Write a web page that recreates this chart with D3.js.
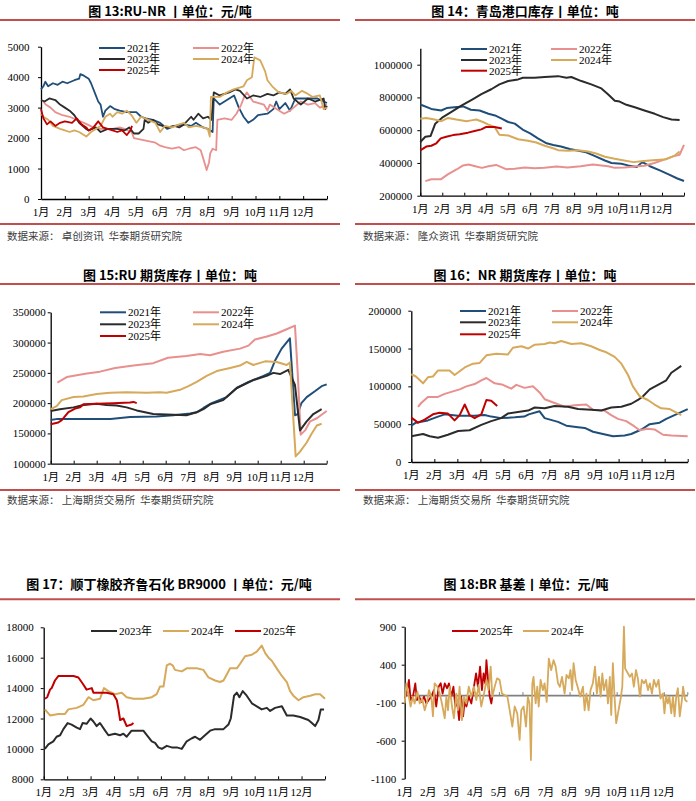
<!DOCTYPE html>
<html><head><meta charset="utf-8">
<script src="https://cdn.jsdelivr.net/npm/d3@7"></script>
<style>body{margin:0;background:#fff}svg{display:block}</style>
</head><body><svg id="c" width="696" height="801"></svg>
<script>
const MONTHS = ["1月","2月","3月","4月","5月","6月","7月","8月","9月","10月","11月","12月"];
const SERIES_NAMES = ["2021年","2022年","2023年","2024年","2025年"];
const COLORS = {"2021年":"#1f4e79","2022年":"#e8908e","2023年":"#2b2b2b","2024年":"#d6a95b","2025年":"#c00000"};

// ---------- 图13 RU-NR (x = month position, 0 = 1月初) ----------
const ru_2021 = [[0,3600],[0.1,3700],[0.18,3850],[0.3,3700],[0.5,3800],[0.7,3750],[0.9,3850],[1.1,3800],[1.4,3900],[1.6,3950],[1.65,4100],[1.8,4050],[2.0,3950],[2.1,3800],[2.3,3400],[2.4,3200],[2.5,3100],[2.6,2700],[2.7,2900],[2.9,3050],[3.1,2950],[3.3,2900],[3.6,2850],[4.0,2850],[4.2,2700],[4.4,2650],[4.7,2600],[5.0,2500],[5.3,2300],[5.6,2400],[6.0,2450],[6.3,2400],[6.5,2500],[6.8,2350],[7.0,2300],[7.1,2250],[7.2,2200],[7.25,3300],[7.5,3100],[7.9,3300],[8.1,3400],[8.3,3000],[8.5,2700],[8.7,2500],[8.9,2600],[9.1,2750],[9.5,2800],[9.75,2950],[9.87,3200],[10.0,2950],[10.25,3150],[10.45,2900],[10.67,3300],[11.2,3300],[11.6,3300],[12.0,3150]];
const ru_2022 = [[0.1,3200],[0.2,3100],[0.4,3000],[0.6,2850],[0.9,2750],[1.2,2700],[1.5,2600],[1.8,2500],[2.2,2350],[2.5,2300],[3.0,2300],[3.3,2350],[3.5,2300],[3.8,2200],[3.9,2000],[4.2,1950],[4.5,1900],[4.8,1850],[5.0,1750],[5.2,1700],[5.5,1650],[5.8,1700],[6.0,1600],[6.2,1650],[6.5,1700],[6.7,1600],[6.8,1350],[6.95,950],[7.05,1200],[7.1,1500],[7.2,1650],[7.35,1600],[7.4,2600],[7.7,2650],[8.0,2600],[8.2,2800],[8.4,3100],[8.55,3400],[8.64,3500],[8.9,3200],[9.35,3100],[9.5,2900],[9.6,3100],[9.9,2950],[10.2,2800],[10.45,2900],[10.6,3000],[10.9,3200],[11.2,3100],[11.5,3150],[11.7,3000],[12.0,3100]];
const ru_2023 = [[0,3250],[0.15,3200],[0.35,3300],[0.6,3250],[0.8,3100],[1.0,3000],[1.2,2900],[1.4,2750],[1.6,2500],[1.9,2300],[2.0,2250],[2.3,2350],[2.5,2200],[2.8,2300],[3.2,2300],[3.5,2250],[3.7,2350],[3.9,2150],[4.1,2150],[4.3,2300],[4.35,2600],[4.5,2500],[4.7,2600],[4.9,2450],[5.1,2400],[5.3,2350],[5.6,2400],[5.8,2350],[6.0,2450],[6.3,2700],[6.4,2600],[6.6,2800],[6.8,2650],[7.0,2700],[7.15,2600],[7.25,3500],[7.5,3400],[7.9,3500],[8.15,3600],[8.35,3550],[8.64,3300],[8.9,3400],[9.2,3350],[9.5,3450],[9.75,3400],[10.0,3500],[10.25,3450],[10.45,3600],[10.6,3300],[10.9,3100],[11.2,3300],[11.5,3200],[11.86,3300],[11.93,2950],[12.0,3050]];
const ru_2024 = [[0,2800],[0.1,2700],[0.3,2600],[0.5,2400],[0.8,2300],[1.0,2250],[1.2,2200],[1.4,2250],[1.6,2200],[1.8,2100],[1.9,2050],[2.1,2200],[2.3,2300],[2.5,2400],[2.7,2700],[2.9,2800],[3.0,2700],[3.2,2850],[3.4,2800],[3.6,2900],[3.8,2750],[4.0,2500],[4.2,2700],[4.5,2600],[4.8,2500],[5.0,2200],[5.2,2400],[5.5,2350],[5.8,2450],[6.0,2500],[6.2,2350],[6.5,2400],[6.8,2350],[7.0,2300],[7.08,2050],[7.13,3350],[7.5,3350],[7.8,3500],[8.08,3600],[8.5,3700],[8.64,3900],[8.85,4000],[8.95,4650],[9.2,4550],[9.4,4200],[9.5,3900],[9.7,3700],[9.97,3500],[10.3,3450],[10.5,3550],[10.67,3400],[10.95,3550],[11.2,3450],[11.4,3350],[11.7,3400],[11.86,2950],[12.0,3000]];
const ru_2025 = [[0,2950],[0.1,2650],[0.25,2450],[0.4,2550],[0.6,2400],[0.8,2500],[1.0,2550],[1.3,2500],[1.5,2650],[1.7,2450],[1.9,2350],[2.0,2250],[2.2,2350],[2.4,2550],[2.6,2350],[2.8,2300],[3.0,2250],[3.2,2200],[3.4,2250],[3.6,2100],[3.75,2250],[3.82,2400]];
const ru_ticks = [0,1000,2000,3000,4000,5000];

// ---------- 图14 青岛港口库存 ----------
const qd_2021 = [[0,757000],[0.5,730000],[0.95,720000],[1.2,735000],[1.55,740000],[1.95,745000],[2.3,725000],[2.7,720000],[3.1,700000],[3.4,690000],[3.7,670000],[4.0,650000],[4.3,640000],[4.7,600000],[5.0,580000],[5.35,550000],[5.75,520000],[6.05,510000],[6.4,500000],[6.8,485000],[7.2,475000],[7.55,465000],[7.9,445000],[8.4,415000],[8.7,400000],[9.15,395000],[9.45,385000],[9.85,375000],[10.1,405000],[10.45,380000],[10.9,355000],[11.3,330000],[11.7,305000],[12.0,290000]];
const qd_2022 = [[0.23,289000],[0.5,300000],[0.93,300000],[1.25,330000],[1.65,360000],[1.95,385000],[2.2,390000],[2.5,380000],[2.8,370000],[3.1,380000],[3.45,388000],[3.9,362000],[4.3,365000],[4.75,372000],[5.2,368000],[5.65,370000],[6.2,378000],[6.7,372000],[7.3,380000],[7.85,390000],[8.55,380000],[8.85,370000],[9.3,372000],[9.75,378000],[10.2,383000],[10.65,400000],[11.1,420000],[11.5,440000],[11.8,450000],[12.0,510000]];
const qd_2023 = [[0,528000],[0.23,560000],[0.47,565000],[0.68,640000],[1.03,680000],[1.4,710000],[1.87,750000],[2.4,790000],[2.78,820000],[3.23,850000],[3.6,880000],[4.0,900000],[4.45,910000],[4.67,920000],[5.2,920000],[5.66,925000],[6.27,930000],[6.65,920000],[6.87,925000],[7.33,900000],[7.78,880000],[8.24,855000],[8.54,820000],[8.85,780000],[9.07,775000],[9.38,755000],[9.76,740000],[10.2,720000],[10.67,700000],[11.05,680000],[11.43,665000],[11.8,662000]];
const qd_2024 = [[0,670000],[0.27,675000],[0.65,665000],[0.96,655000],[1.26,675000],[1.64,665000],[2.1,655000],[2.32,660000],[2.55,665000],[2.85,650000],[3.08,635000],[3.38,620000],[3.6,572000],[4.0,568000],[4.45,545000],[4.9,535000],[5.28,525000],[5.66,505000],[6.04,490000],[6.27,478000],[6.72,475000],[7.18,478000],[7.63,470000],[8.0,458000],[8.4,438000],[8.85,425000],[9.15,418000],[9.7,405000],[10.06,410000],[10.44,415000],[10.9,420000],[11.2,423000],[11.58,445000],[11.8,470000]];
const qd_2025 = [[0,477000],[0.27,500000],[0.5,505000],[0.73,520000],[0.93,550000],[1.18,560000],[1.49,570000],[1.79,575000],[2.17,585000],[2.47,595000],[2.78,605000],[3.0,620000],[3.38,620000],[3.71,610000]];
const qd_ticks = [200000,400000,600000,800000,1000000];

// ---------- 图15 RU期货库存 ----------
const rk_2021 = [[0,172000],[0.3,174000],[2.6,174000],[3.45,177000],[4.6,178000],[5.33,180000],[6.06,183000],[6.35,185000],[6.64,192000],[7.0,200000],[7.65,210000],[8.09,225000],[8.6,235000],[9.25,245000],[9.54,250000],[9.75,270000],[10.04,290000],[10.4,307000],[10.62,180000],[10.74,182000],[10.9,200000],[11.13,210000],[11.5,220000],[11.78,228000],[12.0,231000]];
const rk_2022 = [[0.29,234000],[0.7,243000],[1.13,246000],[1.57,249000],[2.14,252000],[2.8,258000],[3.6,262000],[4.46,266000],[5.1,275000],[5.9,278000],[6.5,281000],[6.93,279000],[7.5,285000],[8.23,290000],[8.6,295000],[8.88,305000],[9.4,310000],[9.83,315000],[10.26,322000],[10.62,328000],[10.74,250000],[10.87,148000],[11.06,155000],[11.28,170000],[11.57,175000],[12.0,187000]];
const rk_2023 = [[0,187000],[0.4,190000],[0.99,193000],[1.42,197000],[2.0,199000],[2.43,197000],[2.87,196000],[3.3,193000],[3.74,188000],[4.46,182000],[5.33,181000],[5.9,180000],[6.35,185000],[6.64,190000],[6.93,198000],[7.5,205000],[8.09,225000],[8.81,238000],[9.39,245000],[9.68,250000],[9.97,248000],[10.33,255000],[10.62,230000],[10.84,155000],[11.13,170000],[11.42,182000],[11.78,190000]];
const rk_2024 = [[0,190000],[0.26,195000],[0.48,205000],[0.99,210000],[1.42,211000],[2.0,215000],[2.58,217000],[3.3,218000],[4.17,217000],[4.75,218000],[5.04,217000],[5.62,222000],[5.99,228000],[6.35,235000],[6.78,245000],[7.22,253000],[7.8,258000],[8.23,262000],[8.52,268000],[8.81,263000],[9.32,269000],[9.83,268000],[10.26,263000],[10.4,267000],[10.65,112000],[10.84,120000],[11.13,135000],[11.35,150000],[11.57,163000],[11.78,166000]];
const rk_2025 = [[0,165000],[0.33,168000],[0.48,172000],[0.77,185000],[1.06,191000],[1.28,193000],[1.42,198000],[2.0,199000],[2.72,200000],[3.45,201000],[3.6,202000],[3.74,200000]];
const rk_ticks = [100000,150000,200000,250000,300000,350000];

// ---------- 图16 NR期货库存 ----------
const nk_2021 = [[0,48000],[0.2,52000],[0.72,55000],[1.16,60000],[1.45,63000],[2.03,61000],[2.75,61000],[3.18,62000],[3.47,60000],[3.9,58000],[4.49,59000],[4.9,60000],[5.1,63000],[5.57,67000],[5.79,58000],[6.37,53000],[6.73,48000],[7.24,46000],[7.53,45000],[7.89,40000],[8.32,37000],[8.76,34000],[9.26,35000],[9.55,37000],[9.99,43000],[10.35,50000],[10.78,52000],[11.07,57000],[11.5,63000],[12.0,70000]];
const nk_2022 = [[0.29,73000],[0.43,78000],[0.72,86000],[1.16,86000],[1.45,90000],[1.88,94000],[2.1,96000],[2.39,100000],[2.75,103000],[3.04,108000],[3.26,111000],[3.62,104000],[3.98,102000],[4.34,97000],[4.56,102000],[4.92,98000],[5.28,100000],[5.57,92000],[5.79,83000],[6.22,78000],[6.66,73000],[7.09,75000],[7.6,76000],[7.89,69000],[8.39,68000],[8.68,62000],[8.97,57000],[9.33,54000],[9.69,47000],[9.91,42000],[10.27,44000],[10.56,43000],[10.93,36000],[11.29,35000],[12.0,34000]];
const nk_2023 = [[0,34000],[0.51,37000],[0.8,34000],[1.16,32000],[1.59,36000],[2.03,41000],[2.53,42000],[3.04,49000],[3.47,54000],[3.9,58000],[4.19,64000],[4.63,66000],[5.07,68000],[5.36,72000],[5.79,71000],[6.22,74000],[6.8,73000],[7.24,70000],[7.81,69000],[8.25,68000],[8.68,72000],[9.12,73000],[9.55,77000],[9.84,82000],[10.06,87000],[10.35,96000],[10.71,102000],[11.07,108000],[11.29,118000],[11.72,127000]];
const nk_2024 = [[0,116000],[0.2,113000],[0.51,104000],[0.72,112000],[0.94,113000],[1.16,121000],[1.66,121000],[1.88,115000],[2.1,120000],[2.32,125000],[2.68,130000],[2.97,131000],[3.26,141000],[3.69,143000],[4.19,142000],[4.41,151000],[4.78,153000],[5.07,150000],[5.36,155000],[5.79,156000],[6.01,158000],[6.22,157000],[6.51,160000],[6.95,156000],[7.38,157000],[7.81,153000],[8.18,148000],[8.47,145000],[8.83,139000],[9.12,130000],[9.41,115000],[9.62,100000],[9.91,87000],[10.27,82000],[10.56,76000],[10.85,71000],[11.22,70000],[11.72,62000]];
const nk_2025 = [[0,58600],[0.29,52000],[0.58,56000],[0.94,63000],[1.23,65000],[1.59,64000],[1.88,55000],[2.1,62000],[2.32,76000],[2.53,62000],[2.75,58000],[3.04,63000],[3.26,82000],[3.47,81000],[3.73,74000]];
const nk_ticks = [0,50000,100000,150000,200000];

// ---------- 图17 顺丁橡胶 BR9000 ----------
const br_2023 = [[0.05,10000],[0.2,10300],[0.41,10500],[0.55,10800],[0.7,10900],[0.84,11300],[1.02,11700],[1.19,11600],[1.41,11400],[1.55,11300],[1.66,11700],[1.83,11650],[2.0,12000],[2.12,11800],[2.26,11500],[2.4,11700],[2.62,11200],[2.76,10900],[3.04,11000],[3.26,10900],[3.4,11000],[3.54,10800],[3.75,11200],[4.04,11200],[4.25,11200],[4.4,10900],[4.61,10500],[4.75,10400],[4.89,10100],[5.04,10000],[5.25,10200],[5.46,10100],[5.68,10100],[5.89,10000],[6.1,10500],[6.32,10700],[6.46,10800],[6.67,10600],[6.88,10900],[7.1,11200],[7.31,11300],[7.67,11300],[7.88,11600],[7.98,12000],[8.12,13500],[8.24,13700],[8.35,13400],[8.49,13800],[8.66,13500],[8.88,13000],[9.09,12800],[9.3,12600],[9.52,12700],[9.66,12500],[9.87,12700],[10.16,12800],[10.37,12200],[10.65,12200],[10.94,12100],[11.29,11900],[11.44,11700],[11.58,11500],[11.72,11900],[11.82,12600],[11.96,12600]];
const br_2024 = [[0.05,12600],[0.27,12200],[0.63,12300],[0.91,12300],[1.05,12600],[1.41,12700],[1.69,12900],[1.91,13400],[2.12,13200],[2.4,13300],[2.57,14000],[2.76,13800],[3.04,13600],[3.33,13700],[3.54,13400],[3.83,13300],[4.25,13300],[4.61,13400],[4.82,13600],[4.96,14100],[5.11,14100],[5.25,15500],[5.39,15600],[5.5,15500],[5.6,15200],[5.89,15100],[6.1,15300],[6.53,15300],[6.81,15200],[7.03,14700],[7.31,14500],[7.52,14400],[7.67,14500],[7.81,14900],[7.95,15300],[8.24,15300],[8.38,15600],[8.59,16100],[8.88,16200],[9.09,16400],[9.3,16800],[9.45,16300],[9.59,16000],[9.73,15800],[9.94,15300],[10.16,14800],[10.37,14400],[10.51,13800],[10.65,13500],[10.87,13200],[11.08,13400],[11.37,13500],[11.58,13600],[11.79,13600],[12.0,13300]];
const br_2025 = [[0.05,13300],[0.15,13400],[0.27,13900],[0.34,14000],[0.48,14500],[0.63,14800],[0.98,14800],[1.27,14800],[1.48,14700],[1.66,14300],[1.83,13900],[2.05,14000],[2.12,13700],[2.4,13700],[2.69,13700],[2.97,13600],[3.12,13200],[3.19,12600],[3.26,11900],[3.4,12000],[3.54,11500],[3.75,11600],[3.83,11700]];
const br_ticks = [8000,10000,12000,14000,16000,18000];

// ---------- 图18 BR 基差 ----------
const bs_2024_x = [0,0.07,0.14,0.25,0.35,0.42,0.54,0.64,0.74,0.85,0.95,1.03,1.13,1.2,1.27,1.39,1.49,1.58,1.7,1.77,1.84,1.91,2.01,2.09,2.19,2.26,2.33,2.43,2.52,2.62,2.72,2.83,2.94,3.04,3.14,3.25,3.37,3.47,3.56,3.65,3.72,3.82,3.92,4.03,4.13,4.24,4.36,4.46,4.57,4.67,4.78,4.88,4.95,5.05,5.15,5.23,5.3,5.36,5.42,5.47,5.56,5.63,5.69,5.77,5.87,5.94,6.03,6.12,6.22,6.32,6.41,6.51,6.59,6.68,6.79,6.87,6.97,7.04,7.11,7.17,7.26,7.36,7.45,7.57,7.64,7.72,7.81,7.89,7.99,8.08,8.16,8.25,8.32,8.39,8.46,8.56,8.63,8.71,8.77,8.84,8.91,8.98,9.08,9.17,9.24,9.31,9.36,9.48,9.56,9.65,9.73,9.82,9.9,9.99,10.07,10.16,10.24,10.33,10.41,10.5,10.58,10.68,10.78,10.86,10.96,11.03,11.1,11.17,11.24,11.32,11.39,11.46,11.53,11.6,11.68,11.77,11.82,11.91,12.0];
const bs_2024_v = [-109,155,45,-150,-20,-110,45,-110,-45,-200,-90,65,-20,-280,155,110,20,-110,-305,-20,-200,110,-150,-305,20,-200,110,-330,-20,-110,110,-20,110,-65,130,-150,20,200,65,375,-20,110,220,200,20,0,-20,-200,-415,-150,-240,-590,-200,-150,-415,-20,-110,-855,155,240,-110,110,-150,200,65,155,-90,480,330,460,375,155,110,240,20,265,220,330,65,420,200,90,-20,110,-200,20,-200,65,155,375,20,240,-20,285,65,200,-110,240,-260,420,-20,-370,-200,-45,110,900,350,285,240,285,110,330,220,-20,200,155,200,65,155,20,200,110,200,-45,20,-240,0,-110,-20,-240,-20,-280,-20,90,-280,-65,110,-65,-90];
const bs_2025_x = [0,0.08,0.18,0.25,0.35,0.45,0.52,0.61,0.71,0.82,0.92,1.02,1.13,1.24,1.34,1.44,1.53,1.61,1.7,1.8,1.88,1.98,2.07,2.15,2.22,2.31,2.4,2.48,2.55,2.62,2.72,2.83,2.93,3.03,3.11,3.2,3.28,3.35,3.42,3.47,3.54,3.61,3.68,3.72];
const bs_2025_v = [-45,20,200,-65,-20,155,-65,-20,-90,-20,-110,-65,-20,65,-150,110,155,20,155,90,155,-20,110,-150,-65,-330,-20,-280,-65,-150,-20,-110,90,285,110,375,65,285,155,460,200,-20,-110,-20];
const bs_ticks = [-1100,-600,-100,400,900];

// ================= drawing =================
const svg = d3.select("#c");
const SERIF = "'Liberation Serif','Times New Roman','Noto Sans CJK SC',serif";
const SANS = "'Noto Sans CJK SC','Noto Sans',sans-serif";
const RULE = "#c0504d";

function panel(o) {
  const g = svg.append("g");
  g.append("text").attr("x", o.titleX).attr("y", o.titleY).attr("text-anchor", "middle")
    .attr("font-family", SANS).attr("font-weight", "bold").attr("font-size", 13).attr("fill", "#000").text(o.title);
  g.append("line").attr("x1", o.rule[0]).attr("x2", o.rule[1]).attr("y1", o.rule[2]).attr("y2", o.rule[2])
    .attr("stroke", RULE).attr("stroke-width", 2);
  if (o.rule2 != null) {
    g.append("line").attr("x1", o.rule[0]).attr("x2", o.rule[1]).attr("y1", o.rule2).attr("y2", o.rule2)
      .attr("stroke", RULE).attr("stroke-width", 2);
  }
  if (o.source) {
    g.append("text").attr("x", o.srcX).attr("y", o.srcY).attr("font-family", SANS).attr("font-size", 10.5)
      .attr("fill", "#404040").attr("xml:space", "preserve").text(o.source);
  }
  const x = d3.scaleLinear().domain([0, 12]).range([o.left, o.right]);
  const y = d3.scaleLinear().domain(o.domain).range([o.bottom, o.top]);

  // y axis
  const ya = g.append("g").attr("transform", `translate(${o.left},0)`)
    .call(d3.axisLeft(y).tickValues(o.ticks).tickSize(3).tickSizeOuter(0).tickPadding(o.pad).tickFormat(d => String(d)));
  ya.select(".domain").attr("stroke", "#000").attr("stroke-width", 1.3);
  ya.selectAll(".tick line").attr("stroke", "#000");
  ya.selectAll("text").attr("font-family", SERIF).attr("font-size", 11).attr("fill", "#000");

  // x axis line
  const axY = o.zeroAxis ? y(0) : o.bottom;
  const xa = g.append("g").attr("transform", `translate(0,${axY})`)
    .call(d3.axisBottom(x).tickValues(d3.range(0, 13)).tickSize(-3).tickSizeOuter(0).tickFormat(""));
  xa.select(".domain").attr("stroke", o.zeroAxis ? "#808080" : "#000").attr("stroke-width", o.zeroAxis ? 1.8 : 1.3);
  xa.selectAll(".tick line").attr("stroke", o.zeroAxis ? "#808080" : "#000");

  // month labels
  g.append("g").selectAll("text").data(MONTHS).join("text")
    .attr("x", (d, i) => x(i)).attr("y", o.bottom + 17).attr("text-anchor", "middle")
    .attr("font-family", SERIF).attr("font-size", 11).attr("fill", "#000").text(d => d);

  // series
  const line = d3.line().x(d => x(d[0])).y(d => y(d[1]));
  o.series.forEach(s => {
    g.append("path").datum(s.data).attr("d", line).attr("fill", "none")
      .attr("stroke", COLORS[s.name]).attr("stroke-width", o.lw || 2).attr("stroke-linejoin", "round");
  });

  // legend
  o.legend.forEach(l => {
    g.append("line").attr("x1", l.x).attr("x2", l.x + 26).attr("y1", l.y).attr("y2", l.y)
      .attr("stroke", COLORS[l.name]).attr("stroke-width", 2);
    g.append("text").attr("x", l.x + 28).attr("y", l.y + 4).attr("font-family", SERIF).attr("font-size", 11)
      .attr("fill", "#000").text(l.name);
  });
}

function grid5(cols, rows) {
  return [
    {name: "2021年", x: cols[0], y: rows[0]}, {name: "2022年", x: cols[1], y: rows[0]},
    {name: "2023年", x: cols[0], y: rows[1]}, {name: "2024年", x: cols[1], y: rows[1]},
    {name: "2025年", x: cols[0], y: rows[2]}
  ];
}
const zip = (xs, vs) => xs.map((v, i) => [v, vs[i]]);

panel({
  title: "图 13:RU-NR 丨单位：元/吨", titleX: 170, titleY: 16, rule: [0, 340, 20], rule2: 224,
  source: "数据来源： 卓创资讯  华泰期货研究院", srcX: 7, srcY: 240,
  left: 41, right: 327, top: 46.7, bottom: 199, domain: [0, 5000], ticks: ru_ticks, pad: 8.5, lw: 1.8,
  series: [{name: "2021年", data: ru_2021}, {name: "2022年", data: ru_2022}, {name: "2023年", data: ru_2023},
           {name: "2024年", data: ru_2024}, {name: "2025年", data: ru_2025}],
  legend: grid5([99, 193], [48, 59, 70])
});
panel({
  title: "图 14：青岛港口库存丨单位：吨", titleX: 525, titleY: 16, rule: [355, 695, 20], rule2: 224,
  source: "数据来源： 隆众资讯  华泰期货研究院", srcX: 363, srcY: 240,
  left: 420.3, right: 684, top: 48.3, bottom: 195.7, domain: [200000, 1100000], ticks: qd_ticks, pad: 5,
  series: [{name: "2021年", data: qd_2021}, {name: "2022年", data: qd_2022}, {name: "2023年", data: qd_2023},
           {name: "2024年", data: qd_2024}, {name: "2025年", data: qd_2025}],
  legend: grid5([461, 551], [49, 60, 70.7])
});
panel({
  title: "图 15:RU 期货库存丨单位：吨", titleX: 170, titleY: 279.5, rule: [0, 340, 284], rule2: 490,
  source: "数据来源： 上海期货交易所  华泰期货研究院", srcX: 7, srcY: 504,
  left: 50.7, right: 326.7, top: 312.3, bottom: 463.7, domain: [100000, 350000], ticks: rk_ticks, pad: 2,
  series: [{name: "2021年", data: rk_2021}, {name: "2022年", data: rk_2022}, {name: "2023年", data: rk_2023},
           {name: "2024年", data: rk_2024}, {name: "2025年", data: rk_2025}],
  legend: grid5([100, 193], [312.3, 324.3, 336])
});
panel({
  title: "图 16：NR 期货库存丨单位：吨", titleX: 525, titleY: 280, rule: [355, 695, 284], rule2: 490,
  source: "数据来源： 上海期货交易所  华泰期货研究院", srcX: 363, srcY: 504,
  left: 411.3, right: 687.7, top: 310.7, bottom: 462, domain: [0, 200000], ticks: nk_ticks, pad: 7,
  series: [{name: "2021年", data: nk_2021}, {name: "2022年", data: nk_2022}, {name: "2023年", data: nk_2023},
           {name: "2024年", data: nk_2024}, {name: "2025年", data: nk_2025}],
  legend: grid5([460, 552], [311, 322.3, 334.3])
});
panel({
  title: "图 17：顺丁橡胶齐鲁石化 BR9000 丨单位：元/吨", titleX: 169, titleY: 588.5, rule: [0, 340, 599.3],
  left: 43.7, right: 325, top: 627.3, bottom: 779.3, domain: [8000, 18000], ticks: br_ticks, pad: 7,
  series: [{name: "2023年", data: br_2023}, {name: "2024年", data: br_2024}, {name: "2025年", data: br_2025}],
  legend: [{name: "2023年", x: 91, y: 631}, {name: "2024年", x: 163, y: 631}, {name: "2025年", x: 235, y: 631}]
});
panel({
  title: "图 18:BR 基差丨单位：元/吨", titleX: 526, titleY: 588.5, rule: [355, 695, 599.3],
  left: 404.7, right: 687.3, top: 626.7, bottom: 778.7, domain: [-1100, 900], ticks: bs_ticks, pad: 5.4, lw: 1.8,
  zeroAxis: true,
  series: [{name: "2025年", data: zip(bs_2025_x, bs_2025_v)}, {name: "2024年", data: zip(bs_2024_x, bs_2024_v)}],
  legend: [{name: "2025年", x: 452, y: 631}, {name: "2024年", x: 523, y: 631}]
});
</script>
</body></html>
